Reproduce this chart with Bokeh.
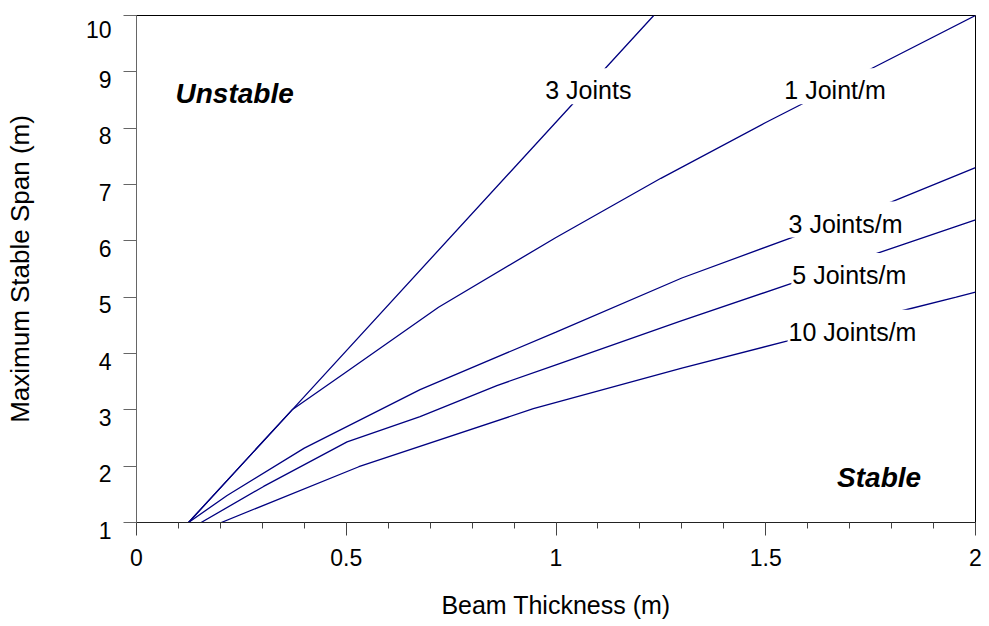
from bokeh.plotting import figure
from bokeh.models import Label, Range1d, FixedTicker, SingleIntervalTicker
from bokeh.embed import file_html
from bokeh.resources import INLINE

# Maximum stable span (m) against beam thickness (m), one curve per jointing case
thick_3_joints = [0.124, 0.371, 1.233]
span_3_joints = [1.0, 3.0, 10.0]

thick_1_per_m = [0.124, 0.371, 0.5, 0.72, 1.0, 1.25, 1.5, 1.75, 2.0]
span_1_per_m = [1.0, 3.0, 3.67, 4.82, 6.06, 7.11, 8.10, 9.05, 10.0]

thick_3_per_m = [0.124, 0.216, 0.40, 0.676, 1.0, 1.30, 1.57, 1.80, 2.0]
span_3_per_m = [1.0, 1.48, 2.32, 3.36, 4.38, 5.34, 6.08, 6.69, 7.30]

thick_5_per_m = [0.154, 0.303, 0.502, 0.676, 0.859, 1.0, 1.295, 1.56, 1.758, 2.0]
span_5_per_m = [1.0, 1.64, 2.43, 2.88, 3.43, 3.80, 4.57, 5.24, 5.76, 6.37]

thick_10_per_m = [0.202, 0.53, 0.946, 1.30, 1.55, 1.82, 1.954, 2.0]
span_10_per_m = [1.0, 1.99, 3.02, 3.74, 4.22, 4.75, 5.0, 5.09]

series_names = ["3 Joints", "1 Joint/m", "3 Joints/m", "5 Joints/m", "10 Joints/m"]

x_ticks = [0, 0.5, 1, 1.5, 2]
x_tick_labels = ["0", "0.5", "1", "1.5", "2"]
y_ticks = [1, 2, 3, 4, 5, 6, 7, 8, 9, 10]
y_tick_labels = ["1", "2", "3", "4", "5", "6", "7", "8", "9", "10"]

# where each curve name box sits (left edge, vertical middle) in data units
name_positions = [(0.972, 8.743), (1.542, 8.743), (1.552, 6.378), (1.561, 5.464), (1.552, 4.455)]

FONT = "Liberation Sans"
LINE_COLOR = "#000080"

p = figure(width=989, height=626, x_range=Range1d(0, 2), y_range=Range1d(1, 10),
           output_backend="svg", toolbar_location=None,
           min_border_left=136, min_border_right=14, min_border_top=15, min_border_bottom=104,
           x_axis_label="Beam Thickness (m)", y_axis_label="Maximum Stable Span (m)")
p.grid.visible = False
p.outline_line_color = "black"
p.outline_line_width = 1
p.background_fill_color = "white"
p.border_fill_color = "white"

# x axis: majors every 0.5 with minor ticks every 0.1
xa = p.xaxis[0]
xa.ticker = SingleIntervalTicker(interval=0.5, num_minor_ticks=5)
xa.major_label_overrides = {v: s for v, s in zip(x_ticks, x_tick_labels)}
xa.axis_line_color = "#222222"
xa.major_tick_line_color = "#444444"
xa.minor_tick_line_color = "#444444"
xa.major_tick_out = 13
xa.major_tick_in = 0
xa.minor_tick_out = 6
xa.minor_tick_in = 0
xa.major_label_standoff = 13
xa.major_label_text_font = FONT
xa.major_label_text_font_size = "23px"
xa.major_label_text_color = "black"
xa.axis_label_text_font = FONT
xa.axis_label_text_font_size = "25px"
xa.axis_label_text_font_style = "normal"
xa.axis_label_text_color = "black"
xa.axis_label_standoff = 22

# y axis: each tick label hangs just below its tick (empty first line, tight spacing)
ya = p.yaxis[0]
ya.ticker = FixedTicker(ticks=y_ticks)
ya.major_label_overrides = {v: "\n" + s for v, s in zip(y_ticks, y_tick_labels)}
ya.major_label_text_line_height = 0.64
ya.axis_line_color = "#666666"
ya.major_tick_line_color = "#666666"
ya.minor_tick_line_color = None
ya.major_tick_out = 13
ya.major_tick_in = 0
ya.major_label_standoff = 12
ya.major_label_text_font = FONT
ya.major_label_text_font_size = "23px"
ya.major_label_text_color = "black"
ya.axis_label_text_font = FONT
ya.axis_label_text_font_size = "26px"
ya.axis_label_text_font_style = "normal"
ya.axis_label_text_color = "black"
ya.axis_label_standoff = 48

curves = [
    (thick_3_joints, span_3_joints),
    (thick_1_per_m, span_1_per_m),
    (thick_3_per_m, span_3_per_m),
    (thick_5_per_m, span_5_per_m),
    (thick_10_per_m, span_10_per_m),
]
for xs, ys in curves:
    p.line(xs, ys, line_color=LINE_COLOR, line_width=1.3)

# curve names on white boxes that break the lines
for name, (lx, ly) in zip(series_names, name_positions):
    p.add_layout(Label(x=lx, y=ly, text=name, text_font=FONT, text_font_size="25px",
                       text_color="black", text_align="left", text_baseline="middle",
                       text_line_height=1.0, background_fill_color="white",
                       padding=dict(left=1, right=2, top=8, bottom=0)))

# region captions
for txt, lx, ly in [("Unstable", 0.093, 8.62), ("Stable", 1.67, 1.79)]:
    p.add_layout(Label(x=lx, y=ly, text=txt, text_font=FONT, text_font_size="28px",
                       text_font_style="bold italic", text_color="black",
                       text_align="left", text_baseline="middle"))

open("out.html", "w").write(file_html(p, INLINE))
